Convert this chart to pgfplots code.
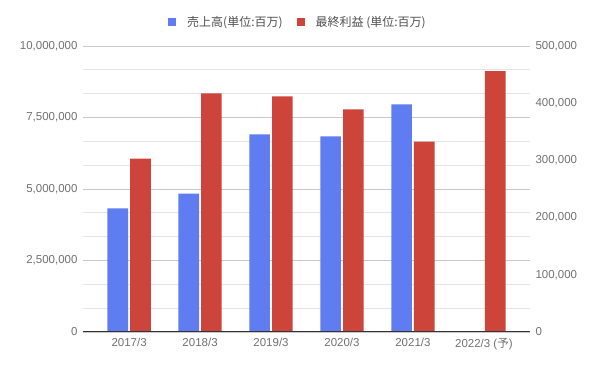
\documentclass[border=0pt]{standalone}
\usepackage{pgfplots}
\pgfplotsset{compat=1.18}
\usepackage{fontspec}
\setmainfont{Liberation Sans}
\newfontfamily\cjk{Noto Sans CJK JP}
\definecolor{sblue}{RGB}{95,125,240}
\definecolor{sred}{RGB}{205,68,58}
\definecolor{tgray}{RGB}{112,112,112}
\definecolor{lgray}{RGB}{80,80,80}
\definecolor{gmaj}{RGB}{200,200,200}
\definecolor{gmin}{RGB}{228,228,228}
\begin{document}
\begin{tikzpicture}
\useasboundingbox (0,0) rectangle (597bp,369bp);
\pgfplotsset{
  common/.style={
    at={(83bp,37bp)}, anchor=south west,
    scale only axis, width=447bp, height=286bp,
    xmin=-0.65, xmax=5.65,
    ymin=0,
    ybar, bar width=0.29,
    major tick length=0, minor tick length=0,
    tick label style={font=\fontsize{11.5bp}{13bp}\selectfont, text=tgray},
    /pgf/number format/assume math mode=true,
    /pgf/number format/fixed,
    /pgf/number format/1000 sep={,},
    scaled y ticks=false,
  }
}
\begin{axis}[common,
  ymax=10000000,
  ytick={0,2500000,5000000,7500000,10000000},
  minor y tick num=2,
  ymajorgrids, yminorgrids,
  major grid style={gmaj, line width=0.8bp},
  minor grid style={gmin, line width=0.8bp},
  axis x line*=bottom, axis y line*=left,
  x axis line style={draw=none},
  y axis line style={draw=none},
  xtick={0,1,2,3,4,5},
  xticklabels={2017/3,2018/3,2019/3,2020/3,2021/3,{2022/3 ({\cjk 予})}},
  xticklabel style={yshift=-3bp},
  yticklabel style={xshift=-2bp},
  legend image code/.code={\fill[#1] (0bp,-4bp) rectangle (8bp,4bp);},
  legend style={at={(0.5,1)}, anchor=center, xshift=-8.5bp, yshift=24bp,
    draw=none, fill=none, legend columns=2,
    font=\cjk\fontsize{12bp}{14bp}\selectfont, text=lgray,
    /tikz/every odd column/.append style={column sep=9bp},
    /tikz/every even column/.append style={column sep=12bp}},
]
\addlegendimage{fill=sblue, draw=none}
\addlegendentry{売上高(単位:百万)}
\addlegendimage{fill=sred, draw=none}
\addlegendentry{最終利益 (単位:百万)}
\addplot[fill=sblue, draw=none, bar shift=-0.16, forget plot] coordinates {
  (0,4320000) (1,4840000) (2,6910000) (3,6840000) (4,7960000)
};
\end{axis}
\begin{axis}[common,
  ymax=500000,
  ytick={0,100000,200000,300000,400000,500000},
  axis y line*=right, axis x line*=bottom,
  y axis line style={draw=none},
  x axis line style={-, draw=black!80, line width=1bp},
  xtick=\empty,
  yticklabel style={xshift=2bp},
  axis on top,
]
\addplot[fill=sred, draw=none, bar shift=0.16] coordinates {
  (0,303000) (1,417000) (2,412000) (3,389000) (4,333000) (5,456000)
};
\end{axis}
\end{tikzpicture}
\end{document}
